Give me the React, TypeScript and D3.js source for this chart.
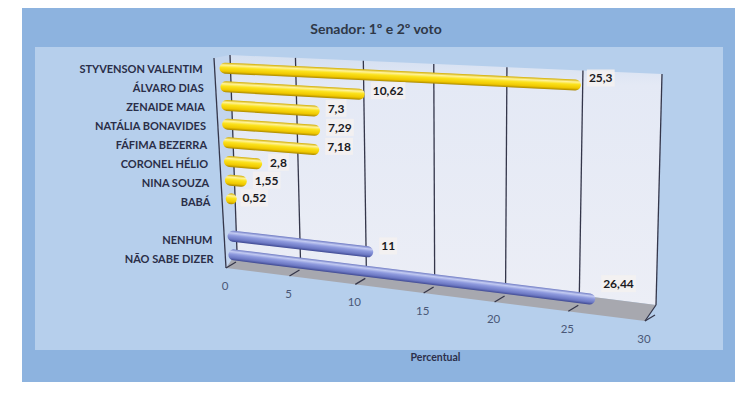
import { useEffect, useRef } from 'react';
import * as d3 from 'd3';

// Senador: 1º e 2º voto — percentual
const candidates = [
  'STYVENSON VALENTIM',
  'ÁLVARO DIAS',
  'ZENAIDE MAIA',
  'NATÁLIA BONAVIDES',
  'FÁFIMA BEZERRA',
  'CORONEL HÉLIO',
  'NINA SOUZA',
  'BABÁ',
];
const candidateValues = [25.3, 10.62, 7.3, 7.29, 7.18, 2.8, 1.55, 0.52];
const otherOptions = ['NENHUM', 'NÃO SABE DIZER'];
const otherValues = [11, 26.44];
const xTicks = [0, 5, 10, 15, 20, 25, 30];

const W = 750;
const H = 396;

type Pt = [number, number];

// corners of the back wall and of the front edge: [top-left, top-right, bottom-left, bottom-right]
const wallCorners: Pt[] = [[230, 55], [662, 74], [237, 252], [656, 305]];
const frontCorners: Pt[] = [[214, 58], [651, 77], [226, 268], [645, 321]];
const barDepth = 0.55;

const lerp = (a: Pt, b: Pt, t: number): Pt => [a[0] + (b[0] - a[0]) * t, a[1] + (b[1] - a[1]) * t];
// perspective foreshortening along the value axis
const warp = (u: number) => u / (1.12 - 0.12 * u);

function plane(c: Pt[], u: number, w: number): Pt {
  const uu = warp(u);
  return lerp(lerp(c[0], c[1], uu), lerp(c[2], c[3], uu), w);
}

export default function App() {
  const svgRef = useRef<SVGSVGElement>(null);

  useEffect(() => {
    if (!svgRef.current) return;
    document.body.style.margin = '0';
    const svg = d3.select(svgRef.current);
    svg.selectAll('*').remove();

    const x = d3.scaleLinear().domain([0, 30]).range([0, 1]);
    const slots = [...candidates, '', ...otherOptions];
    const row = d3.scalePoint<number>().domain(slots.map((_, i) => i)).range([0.0555, 0.969]);

    const proj = (v: number, w: number, d: number): Pt =>
      lerp(plane(wallCorners, x(v), w), plane(frontCorners, x(v), w), d);

    const defs = svg.append('defs');
    const wallGrad = defs.append('linearGradient').attr('id', 'wallGrad')
      .attr('x1', 0).attr('y1', 0).attr('x2', 0).attr('y2', 1);
    wallGrad.append('stop').attr('offset', 0).attr('stop-color', '#d3dff1');
    wallGrad.append('stop').attr('offset', 0.12).attr('stop-color', '#e4e9f5');
    wallGrad.append('stop').attr('offset', 1).attr('stop-color', '#eceef6');

    // backgrounds
    svg.append('rect').attr('width', W).attr('height', H).attr('fill', '#ffffff');
    svg.append('rect').attr('x', 22).attr('y', 8).attr('width', 713).attr('height', 374).attr('fill', '#8db3df');
    svg.append('rect').attr('x', 35).attr('y', 47).attr('width', 688).attr('height', 303).attr('fill', '#b6cfec');

    svg.append('text')
      .attr('x', 376).attr('y', 28)
      .attr('text-anchor', 'middle').attr('dominant-baseline', 'central')
      .style('font-family', 'Lato, sans-serif').style('font-weight', 700).style('font-size', '14px')
      .attr('fill', '#2f3847')
      .text('Senador: 1º e 2º voto');

    const poly = (pts: Pt[]) => 'M' + pts.map(p => p.join(',')).join('L') + 'Z';

    // side wall, back wall, floor
    svg.append('path').attr('d', poly([proj(0, 0, 0), proj(0, 1, 0), proj(0, 1, 1), proj(0, 0, 1)]))
      .attr('fill', '#c3d5ee');
    svg.append('path').attr('d', poly([proj(0, 0, 0), proj(30, 0, 0), proj(30, 1, 0), proj(0, 1, 0)]))
      .attr('fill', 'url(#wallGrad)');
    svg.append('path').attr('d', poly([proj(0, 1, 0), proj(30, 1, 0), proj(30, 1, 1), proj(0, 1, 1)]))
      .attr('fill', '#a7a8af');

    // gridlines on the back wall
    svg.append('g').selectAll('line').data(xTicks).enter().append('line')
      .attr('x1', d => proj(d, 0, 0)[0]).attr('y1', d => proj(d, 0, 0)[1])
      .attr('x2', d => proj(d, 1, 0)[0]).attr('y2', d => proj(d, 1, 0)[1])
      .attr('stroke', '#34364a').attr('stroke-width', 1.3);

    // edges
    const edge = [[proj(0, 0, 1), proj(0, 1, 1)], [proj(30, 1, 0), proj(30, 1, 1)]];
    svg.append('g').selectAll('line').data(edge).enter().append('line')
      .attr('x1', d => d[0][0]).attr('y1', d => d[0][1])
      .attr('x2', d => d[1][0]).attr('y2', d => d[1][1])
      .attr('stroke', '#34364a').attr('stroke-width', 1.3);

    // ticks and tick labels along the floor front edge
    const axis = svg.append('g');
    axis.selectAll('line').data(xTicks).enter().append('line')
      .attr('x1', d => proj(d, 1, 1)[0]).attr('y1', d => proj(d, 1, 1)[1])
      .attr('x2', d => proj(d, 1, 1)[0] + 10).attr('y2', d => proj(d, 1, 1)[1] - 6)
      .attr('stroke', '#34364a').attr('stroke-width', 1.3);
    axis.selectAll('text').data(xTicks).enter().append('text')
      .attr('x', d => proj(d, 1, 1)[0] - 1).attr('y', d => proj(d, 1, 1)[1] + 17)
      .attr('text-anchor', 'middle').attr('dominant-baseline', 'central')
      .style('font-family', 'Lato, sans-serif').style('font-size', '11.5px')
      .attr('fill', '#4a5877')
      .text(d => d);

    const mid = lerp(proj(0, 1, 1), proj(30, 1, 1), 0.5);
    svg.append('text')
      .attr('x', mid[0]).attr('y', 357)
      .attr('text-anchor', 'middle').attr('dominant-baseline', 'central')
      .style('font-family', 'Lato, sans-serif').style('font-weight', 700).style('font-size', '10.5px')
      .attr('fill', '#2c304c')
      .text('Percentual');

    // bars
    type Bar = { name: string; value: number; slot: number; kind: 'cand' | 'other' };
    const bars: Bar[] = [
      ...candidates.map((name, i) => ({ name, value: candidateValues[i], slot: i, kind: 'cand' as const })),
      ...otherOptions.map((name, i) => ({ name, value: otherValues[i], slot: candidates.length + 1 + i, kind: 'other' as const })),
    ];

    const palette = {
      cand: ['#d2ad00', '#fff39a', '#fbe21c', '#f0c800', '#a98700'],
      other: ['#6f7bc4', '#c3cbf2', '#8e9ade', '#6c78c3', '#3f4992'],
    };
    const r = 5.5;

    const barG = svg.append('g');
    bars.forEach((b, i) => {
      const w = row(b.slot)!;
      const s = proj(0, w, barDepth);
      const t = proj(b.value, w, barDepth);
      const len = Math.hypot(t[0] - s[0], t[1] - s[1]);
      const dir: Pt = [(t[0] - s[0]) / len, (t[1] - s[1]) / len];
      const n: Pt = [-dir[1], dir[0]];
      const a: Pt = [s[0] + dir[0] * r * 0.6, s[1] + dir[1] * r * 0.6];
      const e: Pt = len > r * 1.6 ? [t[0] - dir[0] * r, t[1] - dir[1] * r] : a;
      const c = lerp(a, e, 0.5);
      const g = defs.append('linearGradient').attr('id', 'bar' + i)
        .attr('gradientUnits', 'userSpaceOnUse')
        .attr('x1', c[0] - n[0] * r).attr('y1', c[1] - n[1] * r)
        .attr('x2', c[0] + n[0] * r).attr('y2', c[1] + n[1] * r);
      const cols = palette[b.kind];
      [0, 0.22, 0.45, 0.78, 1].forEach((o, k) => g.append('stop').attr('offset', o).attr('stop-color', cols[k]));
      barG.append('line')
        .attr('x1', a[0]).attr('y1', a[1]).attr('x2', e[0]).attr('y2', e[1])
        .attr('stroke', `url(#bar${i})`).attr('stroke-width', r * 2).attr('stroke-linecap', 'round');
    });

    // value labels
    const fmt = (v: number) => String(v).replace('.', ',');
    const labG = svg.append('g');
    bars.forEach(b => {
      const w = row(b.slot)!;
      const t = proj(b.value, w, barDepth);
      const uu = warp(x(b.value));
      const lx = t[0] + 6;
      const ly = t[1] - (1 + 7 * uu * (1 + w * 1.5));
      const txt = labG.append('text')
        .attr('x', lx + 2).attr('y', ly)
        .attr('dominant-baseline', 'central')
        .style('font-family', 'Lato, sans-serif').style('font-weight', 700).style('font-size', '12px')
        .attr('fill', '#1b1b1f')
        .text(fmt(b.value));
      const bb = (txt.node() as SVGTextElement).getBBox();
      labG.insert('rect', 'text')
        .attr('x', bb.x - 2).attr('y', bb.y - 1).attr('width', bb.width + 4).attr('height', bb.height + 2)
        .attr('fill', '#f4f1f0').attr('opacity', 0.85);
    });

    // category labels
    svg.append('g').selectAll('text').data(bars).enter().append('text')
      .attr('x', d => proj(0, row(d.slot)!, 1)[0] - 12)
      .attr('y', d => proj(0, row(d.slot)!, 0.8)[1])
      .attr('text-anchor', 'end').attr('dominant-baseline', 'central')
      .style('font-family', 'Lato, sans-serif').style('font-weight', 700).style('font-size', '11px')
      .attr('fill', '#2a2e48')
      .text(d => d.name);
  }, []);

  return <svg ref={svgRef} width={W} height={H} style={{ display: 'block' }} />;
}
